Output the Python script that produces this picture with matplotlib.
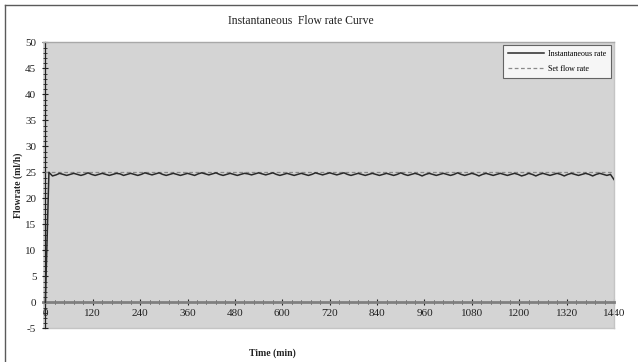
import matplotlib
matplotlib.use("Agg")
import matplotlib.pyplot as plt
from matplotlib.lines import Line2D
from matplotlib.ticker import MultipleLocator

# ---- data ----
time_min = list(range(0, 1441, 9))
inst_rate = [0.0, 25.0,
    24.3, 24.5, 24.8, 24.6,  24.4, 24.6, 24.8, 24.6,  24.4, 24.6, 24.9, 24.6,
    24.4, 24.6, 24.8, 24.6,  24.4, 24.6, 24.8, 24.7,  24.4, 24.6, 24.8, 24.6,
    24.4, 24.6, 24.9, 24.7,  24.5, 24.7, 24.9, 24.6,  24.4, 24.6, 24.8, 24.6,
    24.4, 24.6, 24.8, 24.6,  24.4, 24.7, 24.9, 24.7,  24.5, 24.7, 24.9, 24.6,
    24.4, 24.6, 24.8, 24.6,  24.4, 24.6, 24.8, 24.7,  24.5, 24.7, 24.9, 24.7,
    24.5, 24.7, 24.9, 24.6,  24.4, 24.6, 24.8, 24.6,  24.4, 24.6, 24.8, 24.6,
    24.4, 24.6, 24.9, 24.7,  24.5, 24.7, 24.9, 24.7,  24.5, 24.7, 24.9, 24.6,
    24.4, 24.6, 24.8, 24.6,  24.4, 24.6, 24.8, 24.6,  24.4, 24.6, 24.8, 24.6,
    24.4, 24.6, 24.9, 24.6,  24.4, 24.6, 24.8, 24.6,  24.3, 24.6, 24.8, 24.6,
    24.4, 24.6, 24.8, 24.6,  24.4, 24.6, 24.9, 24.6,  24.4, 24.6, 24.8, 24.6,
    24.3, 24.6, 24.8, 24.6,  24.4, 24.6, 24.8, 24.6,  24.4, 24.6, 24.8, 24.6,
    24.3, 24.5, 24.8, 24.6,  24.3, 24.6, 24.8, 24.6,  24.4, 24.6, 24.8, 24.6,
    24.3, 24.6, 24.8, 24.6,  24.4, 24.6, 24.8, 24.6,  24.3, 24.6, 24.8, 24.6,
    24.4, 24.6, 23.6]
set_rate = [25.0, 25.0]
set_time = [0, 1440]

title = "Instantaneous  Flow rate Curve"
xlabel = "Time (min)"
ylabel = "Flowrate (ml/h)"
xticks = list(range(0, 1441, 120))
yticks = list(range(-5, 51, 5))

plt.rcParams['font.family'] = ['Liberation Serif', 'DejaVu Serif']
plt.rcParams['axes.unicode_minus'] = False

W, H = 638, 362
fig = plt.figure(figsize=(W / 100, H / 100), dpi=100)
fig.patch.set_facecolor('white')

ax = fig.add_axes([43 / W, (H - 328.3) / H, (614 - 43) / W, (328.3 - 42.3) / H])
ax.set_facecolor('#d4d4d4')
ax.set_xlim(-6, 1440)
ax.set_ylim(-5, 50)

ax.plot(set_time, set_rate, color='#8a8a8a', lw=0.9, ls=(0, (3, 2)), label='Set flow rate', zorder=3)
ax.plot(time_min, inst_rate, color='#2a2a2a', lw=1.1, label='Instantaneous rate', zorder=4)

ax.spines['top'].set_color('#a8a8a8')
ax.spines['top'].set_linewidth(1.0)
ax.spines['right'].set_color('#c4c4c4')
ax.spines['right'].set_linewidth(1.0)
ax.spines['bottom'].set_position(('data', 0))
ax.spines['bottom'].set_color('#808080')
ax.spines['bottom'].set_linewidth(2.0)
ax.spines['left'].set_position(('data', 0))
ax.spines['left'].set_color('#222222')
ax.spines['left'].set_linewidth(0.9)
ax.axhline(-5, color='#c4c4c4', lw=1.0, clip_on=False, zorder=1)

ax.set_xticks(xticks)
ax.xaxis.set_minor_locator(MultipleLocator(24))
ax.set_yticks(yticks)
ax.yaxis.set_minor_locator(MultipleLocator(1))
ax.tick_params(axis='both', which='major', direction='inout', length=5, width=0.8, color='#222222',
               labelsize=8, labelcolor='#222222')
ax.tick_params(axis='both', which='minor', direction='inout', length=3.5, width=0.6, color='#222222')
ax.tick_params(axis='x', which='major', pad=2)
ax.tick_params(axis='y', which='major', pad=4)

handles, labels = ax.get_legend_handles_labels()
leg = ax.legend([handles[1], handles[0]], [labels[1], labels[0]], loc='upper right',
                bbox_to_anchor=(611 / W, (H - 45) / H), bbox_transform=fig.transFigure,
                fontsize=5.8, frameon=True, fancybox=False, edgecolor='#444444',
                handlelength=4.5, handletextpad=0.5, borderpad=0.6, labelspacing=0.9,
                borderaxespad=0)
leg.get_frame().set_linewidth(0.8)

fig.text(300.5 / W, (H - 21) / H, title, ha='center', va='center', fontsize=8.4, color='#222222')
fig.text(272 / W, (H - 353) / H, xlabel, ha='center', va='center', fontsize=7,
         fontweight='bold', color='#222222')
fig.text(18 / W, (H - 185) / H, ylabel, ha='center', va='center', fontsize=7,
         fontweight='bold', rotation=90, color='#222222')

# chart border (top and left visible)
fig.add_artist(Line2D([5 / W, 1.0], [(H - 5) / H, (H - 5) / H], transform=fig.transFigure,
                      color='#5a5a5a', lw=1.0))
fig.add_artist(Line2D([5 / W, 5 / W], [(H - 5) / H, 0], transform=fig.transFigure,
                      color='#5a5a5a', lw=1.0))

fig.savefig('out.png', dpi=100)
